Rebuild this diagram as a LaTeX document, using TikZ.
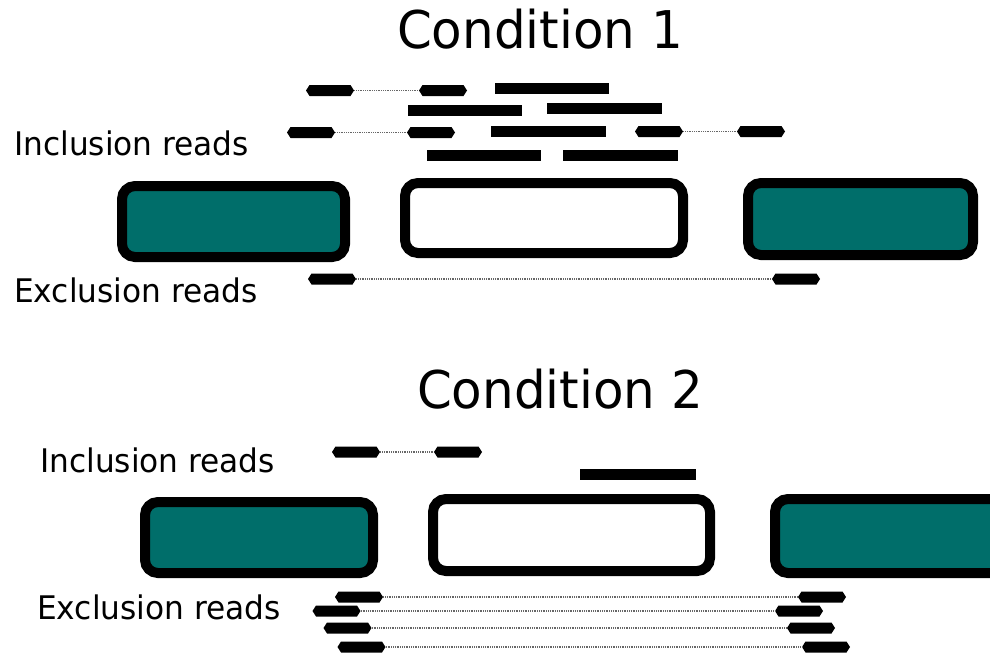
\documentclass[tikz,border=0pt]{standalone}
\usepackage{fontspec}
\setmainfont{DejaVu Sans}[FakeStretch=0.96]
\usetikzlibrary{shapes.symbols}
\definecolor{exonteal}{RGB}{0,110,106}
\tikzset{
  x=1pt, y=-1pt,
  exon/.style={draw=black, line width=10pt, rounded corners=13pt, inner sep=0pt},
  constit/.style={exon, fill=exonteal},
  alt/.style={exon, fill=white},
  bar/.style={fill=black, inner sep=0pt, minimum height=11pt},
  readend/.style={shape=signal, signal to=east and west, signal pointer angle=115,
                  fill=black, inner sep=0pt, minimum height=11pt, minimum width=48pt},
  junction/.style={draw=black!60, line width=1.6pt, dash pattern=on 1pt off 0.8pt},
  title/.style={font=\fontsize{52}{58}\selectfont, inner sep=0pt},
  lbl/.style={font=\fontsize{32.5}{38}\selectfont, anchor=west, inner sep=0pt},
}
\begin{document}
\begin{tikzpicture}
\useasboundingbox (0,0) rectangle (990,656);
\clip (0,0) rectangle (990,656);

% ---------- Condition 1 ----------
\node[title] (t1) at (540,29) {Condition 1};
\node[lbl] (inc1) at (14,143) {Inclusion reads};
\node[lbl] (exc1) at (14,290) {Exclusion reads};

\node[constit, minimum width=223pt, minimum height=71pt] (up1) at (233.5,221.5) {};
\node[alt,     minimum width=278pt, minimum height=70pt] (mid1) at (544,218) {};
\node[constit, minimum width=225pt, minimum height=72pt] (dn1) at (860.5,219) {};

% body reads inside the alternative exon
\node[bar, minimum width=114pt] (b1a) at (552,88.5) {};
\node[bar, minimum width=114pt] (b1b) at (465,110) {};
\node[bar, minimum width=115pt] (b1c) at (604.5,108) {};
\node[bar, minimum width=115pt] (b1d) at (548.5,131.5) {};
\node[bar, minimum width=114pt] (b1e) at (484,155) {};
\node[bar, minimum width=115pt] (b1f) at (620.5,155) {};

% split inclusion reads
\node[readend] (r1a) at (330,90.5) {};
\node[readend] (r1b) at (443,90.5) {};
\draw[junction] (r1a.east) -- (r1b.west);
\node[readend] (r1c) at (311,132.5) {};
\node[readend] (r1d) at (431,132.5) {};
\draw[junction] (r1c.east) -- (r1d.west);
\node[readend] (r1e) at (659,131.5) {};
\node[readend] (r1f) at (761,131.5) {};
\draw[junction] (r1e.east) -- (r1f.west);

% split exclusion read
\node[readend] (x1a) at (332,279) {};
\node[readend] (x1b) at (796,279) {};
\draw[junction] (x1a.east) -- (x1b.west);

% ---------- Condition 2 ----------
\node[title] (t2) at (560,389) {Condition 2};
\node[lbl] (inc2) at (40,460) {Inclusion reads};
\node[lbl] (exc2) at (37,607) {Exclusion reads};

\node[constit, minimum width=228pt, minimum height=71pt] (up2) at (259,537.5) {};
\node[alt,     minimum width=277pt, minimum height=72pt] (mid2) at (571.5,535) {};
\node[constit, minimum width=230pt, minimum height=74pt] (dn2) at (890,536) {};

\node[bar, minimum width=116pt] (b2a) at (638,474.5) {};

\node[readend] (r2a) at (356,452) {};
\node[readend] (r2b) at (458,452) {};
\draw[junction] (r2a.east) -- (r2b.west);

\node[readend] (x2a) at (359,597) {};
\node[readend] (x2b) at (822,597) {};
\draw[junction] (x2a.east) -- (x2b.west);
\node[readend] (x2c) at (336.5,611) {};
\node[readend] (x2d) at (799,611) {};
\draw[junction] (x2c.east) -- (x2d.west);
\node[readend] (x2e) at (347.5,628) {};
\node[readend] (x2f) at (811,628) {};
\draw[junction] (x2e.east) -- (x2f.west);
\node[readend] (x2g) at (361.5,647) {};
\node[readend] (x2h) at (826,647) {};
\draw[junction] (x2g.east) -- (x2h.west);
\end{tikzpicture}
\end{document}
